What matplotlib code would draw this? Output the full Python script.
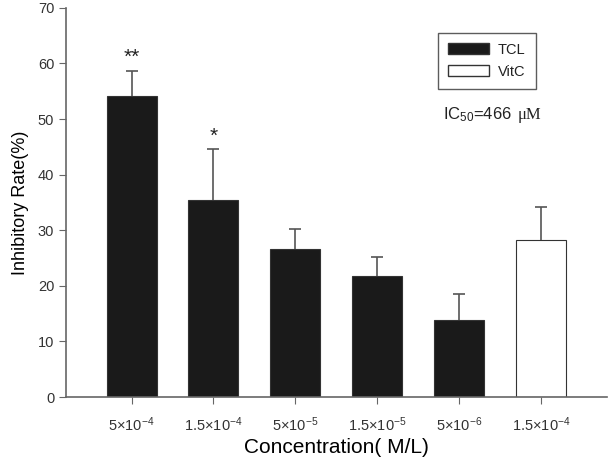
import numpy as np
import matplotlib
matplotlib.use("Agg")
import matplotlib.pyplot as plt
from matplotlib.patches import Patch

plt.rcParams["font.family"] = ["Liberation Sans", "DejaVu Sans"]
plt.rcParams["mathtext.fontset"] = "custom"
plt.rcParams["mathtext.rm"] = "Liberation Sans"
plt.rcParams["mathtext.it"] = "Liberation Sans"
plt.rcParams["text.color"] = "#222222"

# --- data --------------------------------------------------------------------
labels = [r"5×10$^{-4}$", r"1.5×10$^{-4}$", r"5×10$^{-5}$",
          r"1.5×10$^{-5}$", r"5×10$^{-6}$", r"1.5×10$^{-4}$"]
means = [54.1, 35.4, 26.7, 21.8, 13.9, 28.3]
errors = [4.6, 9.2, 3.5, 3.3, 4.6, 5.9]
groups = ["TCL", "TCL", "TCL", "TCL", "TCL", "VitC"]
stars = ["**", "*", "", "", "", ""]

fig = plt.figure(figsize=(6.11, 4.58), dpi=100)
ax = fig.add_axes([0.108, 0.133, 0.885, 0.85])

x = np.arange(len(means))
colors = ["#1a1a1a" if g == "TCL" else "white" for g in groups]
ax.bar(x, means, width=0.61, color=colors, edgecolor="#333333", linewidth=0.8)
eb = ax.errorbar(x, means, yerr=[np.zeros(len(errors)), errors], fmt="none",
                 ecolor="#555555", elinewidth=1.2, capsize=4.5, capthick=1.2)
eb[1][0].set_visible(False)   # no cap at the bar top, upper error only

for xi, m, e, s in zip(x, means, errors, stars):
    if s:
        ax.text(xi, m + e + 0.6, s, ha="center", va="bottom", fontsize=15)

ax.set_xlim(-0.8, 5.8)
ax.set_ylim(0, 70)
ax.set_yticks(range(0, 71, 10))
ax.set_xticks(x)
ax.set_xticklabels(labels, fontsize=10.5)
ax.tick_params(axis="y", labelsize=10.5, direction="out", length=5,
               color="#666666", labelcolor="#333333")
ax.tick_params(axis="x", direction="out", length=5, color="#666666",
               labelcolor="#333333", pad=8)
for side in ("top", "right"):
    ax.spines[side].set_visible(False)
for side in ("left", "bottom"):
    ax.spines[side].set_color("#666666")
    ax.spines[side].set_linewidth(1.2)

ax.set_ylabel("Inhibitory Rate(%)", fontsize=13, labelpad=6)
ax.set_xlabel("Concentration( M/L)", fontsize=15, labelpad=3)

handles = [Patch(facecolor="#1a1a1a", edgecolor="#333333", label="TCL"),
           Patch(facecolor="white", edgecolor="#333333", label="VitC")]
leg = ax.legend(handles=handles, loc="upper left", bbox_to_anchor=(0.688, 0.936),
                borderaxespad=0, fontsize=10.5, frameon=True, fancybox=False,
                handlelength=2.8, handleheight=0.8, handletextpad=0.6,
                borderpad=0.7, labelspacing=0.55)
leg.get_frame().set_edgecolor("#333333")
leg.get_frame().set_linewidth(1.0)

ax.text(0.697, 0.725, r"IC$_{50}$=466", transform=ax.transAxes, fontsize=12,
        ha="left", va="center")
ax.text(0.836, 0.725, "μM", transform=ax.transAxes, fontsize=12,
        family="Liberation Serif", ha="left", va="center")

fig.savefig("out.png", dpi=100)
